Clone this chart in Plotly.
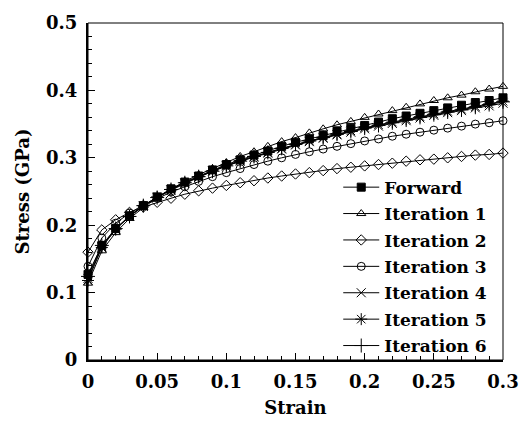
import plotly.graph_objects as go

strain = [0.00, 0.01, 0.02, 0.03, 0.04, 0.05, 0.06, 0.07, 0.08, 0.09, 0.10,
          0.11, 0.12, 0.13, 0.14, 0.15, 0.16, 0.17, 0.18, 0.19, 0.20,
          0.21, 0.22, 0.23, 0.24, 0.25, 0.26, 0.27, 0.28, 0.29, 0.30]

forward = [0.127, 0.170, 0.195, 0.214, 0.229, 0.242, 0.254, 0.264, 0.273, 0.282, 0.290,
           0.297, 0.304, 0.310, 0.317, 0.323, 0.328, 0.333, 0.339, 0.344, 0.348,
           0.353, 0.358, 0.362, 0.366, 0.370, 0.374, 0.378, 0.382, 0.385, 0.389]
iter1 = [0.114, 0.162, 0.189, 0.210, 0.226, 0.241, 0.253, 0.265, 0.275, 0.284, 0.293,
         0.302, 0.309, 0.317, 0.324, 0.330, 0.337, 0.343, 0.349, 0.354, 0.360,
         0.365, 0.370, 0.375, 0.380, 0.385, 0.389, 0.393, 0.398, 0.402, 0.406]
iter2 = [0.160, 0.193, 0.208, 0.219, 0.227, 0.234, 0.240, 0.246, 0.251, 0.255, 0.259,
         0.263, 0.266, 0.270, 0.273, 0.276, 0.278, 0.281, 0.284, 0.286, 0.288,
         0.290, 0.292, 0.295, 0.297, 0.298, 0.300, 0.302, 0.304, 0.305, 0.307]
iter3 = [0.139, 0.181, 0.203, 0.218, 0.230, 0.240, 0.249, 0.257, 0.265, 0.272, 0.278,
         0.284, 0.290, 0.295, 0.300, 0.305, 0.309, 0.313, 0.317, 0.321, 0.325,
         0.328, 0.332, 0.335, 0.338, 0.341, 0.344, 0.347, 0.350, 0.352, 0.355]
iter4 = [0.121, 0.168, 0.194, 0.213, 0.228, 0.241, 0.252, 0.262, 0.271, 0.280, 0.288,
         0.295, 0.301, 0.307, 0.313, 0.319, 0.324, 0.329, 0.334, 0.338, 0.343,
         0.347, 0.351, 0.355, 0.359, 0.363, 0.367, 0.370, 0.374, 0.377, 0.381]
iter5 = [0.118, 0.167, 0.194, 0.213, 0.229, 0.242, 0.253, 0.263, 0.272, 0.281, 0.289,
         0.296, 0.302, 0.308, 0.314, 0.320, 0.325, 0.330, 0.335, 0.340, 0.345,
         0.349, 0.353, 0.357, 0.361, 0.365, 0.369, 0.372, 0.376, 0.380, 0.384]
iter6 = [0.124, 0.170, 0.195, 0.213, 0.229, 0.241, 0.253, 0.263, 0.272, 0.280, 0.288,
         0.295, 0.302, 0.308, 0.314, 0.320, 0.325, 0.330, 0.335, 0.339, 0.344,
         0.348, 0.352, 0.356, 0.360, 0.364, 0.368, 0.371, 0.375, 0.379, 0.383]

series_names = ["Forward", "Iteration 1", "Iteration 2", "Iteration 3",
                "Iteration 4", "Iteration 5", "Iteration 6"]
series_values = [forward, iter1, iter2, iter3, iter4, iter5, iter6]
symbols = ["square", "triangle-up-open", "diamond-open", "circle-open",
           "x-thin", "asterisk-open", "cross-thin"]
sizes = [8, 8, 8, 8, 9, 10, 10]

FONT = "DejaVu Serif"

fig = go.Figure()
for name, vals, sym, sz in zip(series_names, series_values, symbols, sizes):
    fig.add_trace(go.Scatter(
        x=strain, y=vals, name=name, mode="lines+markers",
        line=dict(color="black", width=1),
        marker=dict(symbol=sym, size=sz, color="black",
                    line=dict(color="black", width=1)),
        cliponaxis=False, legendgroup=name,
    ))

axis_common = dict(
    showgrid=False, zeroline=False, showline=True, linecolor="black", linewidth=2,
    ticks="inside", ticklen=7, tickwidth=1, tickcolor="black",
    tickfont=dict(family=FONT, size=18, color="black", weight="bold"),
    mirror=False,
)

fig.update_xaxes(
    range=[0, 0.3], dtick=0.05, tick0=0,
    minor=dict(ticks="inside", ticklen=4, tickwidth=1, tickcolor="black", dtick=0.01, showgrid=False),
    title=dict(text="Strain", font=dict(family=FONT, size=18, color="black", weight="bold"), standoff=11),
    ticklabelstandoff=4,
    **axis_common,
)
fig.update_yaxes(
    range=[0, 0.5], dtick=0.1, tick0=0,
    minor=dict(ticks="inside", ticklen=4, tickwidth=1, tickcolor="black", dtick=0.02, showgrid=False),
    title=dict(text="Stress (GPa)", font=dict(family=FONT, size=18, color="black", weight="bold"), standoff=12),
    ticklabelstandoff=5,
    **axis_common,
)

fig.add_shape(type="rect", xref="paper", yref="paper", x0=0, y0=0, x1=1, y1=1,
              line=dict(color="black", width=1), layer="above")

fig.update_layout(
    width=531, height=427,
    margin=dict(l=88, r=21, t=18, b=62),
    paper_bgcolor="white", plot_bgcolor="white",
    font=dict(family=FONT, size=17, color="black"),
    legend=dict(
        x=0.603, y=0.565, xanchor="left", yanchor="top",
        bgcolor="rgba(0,0,0,0)", borderwidth=0,
        font=dict(family=FONT, size=17, color="black", weight="bold"),
        tracegroupgap=1.3, itemwidth=36,
    ),
)

fig.write_html("out.html")
